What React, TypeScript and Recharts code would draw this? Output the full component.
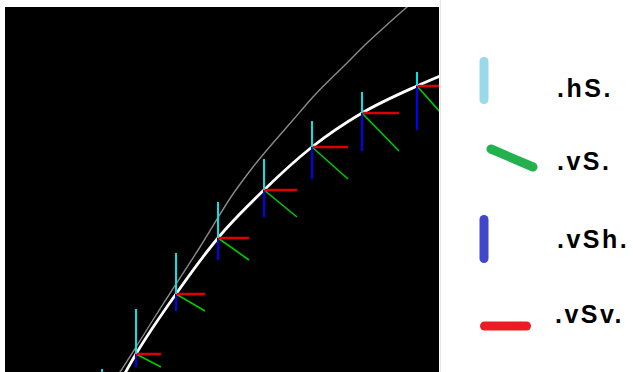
import React from 'react';
import { ComposedChart, Line, XAxis, YAxis, CartesianGrid, Legend } from 'recharts';

// anchor points of the vector glyphs (chart units)
const anchorX = [97, 131, 171, 213, 259, 307, 357, 412];
const anchorY = [-44, 18, 78, 134, 182, 225, 259, 286];
// component lengths
const hS = [47, 45, 41, 36, 31, 26, 21, 14];
const vSh = [11, 13, 17, 22, 27, 32, 38, 44];
const vSv = [22, 25, 29, 31, 33, 36, 37, 39];

// white trajectory
const whiteX = [97, 131, 171, 213, 259, 307, 357, 412, 440];
const whiteY = [-44, 18, 78, 134, 182, 225, 259, 286, 298];

// gray reference curve
const grayX = [109, 115, 131, 146, 162, 195, 228, 248, 288, 308, 342, 362, 385, 402, 412];
const grayY = [-9, 0, 25, 49, 74, 125, 178, 205, 252, 275, 309, 329, 350, 365, 374];

const legendLabels = ['.hS.', '.vS.', '.vSh.', '.vSv.'];
const legendColors = ['#99d9ea', '#22b14c', '#3f48cc', '#ed1c24'];

const whiteData = whiteX.map((x, i) => ({ x, y: whiteY[i] }));
const grayData = grayX.map((x, i) => ({ x, y: grayY[i] }));

const seg = (build: (i: number) => { x: number; y: number }[]) =>
  anchorX.flatMap((_, i) => [...build(i), { x: anchorX[i], y: null as any }]);

const hsData = seg((i) => [
  { x: anchorX[i], y: anchorY[i] },
  { x: anchorX[i], y: anchorY[i] + hS[i] },
]);
const vshData = seg((i) => [
  { x: anchorX[i], y: anchorY[i] },
  { x: anchorX[i], y: anchorY[i] - vSh[i] },
]);
const vsvData = seg((i) => [
  { x: anchorX[i], y: anchorY[i] },
  { x: anchorX[i] + vSv[i], y: anchorY[i] },
]);
const vsData = seg((i) => [
  { x: anchorX[i], y: anchorY[i] },
  { x: anchorX[i] + vSv[i], y: anchorY[i] - vSh[i] },
]);

const LegendContent = () => (
  <svg width={193} height={372} style={{ display: 'block' }}>
    <line x1={44} y1={61.5} x2={44} y2={99.5} stroke={legendColors[0]} strokeWidth={9} strokeLinecap="round" />
    <line x1={51} y1={149} x2={93} y2={167} stroke={legendColors[1]} strokeWidth={9} strokeLinecap="round" />
    <line x1={44} y1={219.5} x2={44} y2={258.5} stroke={legendColors[2]} strokeWidth={9} strokeLinecap="round" />
    <line x1={44.5} y1={326} x2={86.5} y2={326} stroke={legendColors[3]} strokeWidth={9} strokeLinecap="round" />
    {legendLabels.map((t, i) => (
      <text
        key={t}
        x={i === 3 ? 115 : 117}
        y={[97, 170, 248, 323][i]}
        fontFamily="'Liberation Sans', Arial, sans-serif"
        fontWeight="bold"
        fontSize={25}
        letterSpacing={2.5}
        fill="#000"
      >
        {t}
      </text>
    ))}
  </svg>
);

export default function App() {
  return (
    <div style={{ position: 'relative', width: 633, height: 372, background: '#fff', overflow: 'hidden' }}>
      <style>{'body{margin:0;}'}</style>
      <div style={{ position: 'absolute', left: 440, top: 0, width: 1, height: 372, background: '#e6e6e6' }} />
      <ComposedChart width={633} height={372} margin={{ top: 7, left: 5, right: 194, bottom: 0 }}>
        <CartesianGrid horizontal={false} vertical={false} fill="#000" fillOpacity={1} stroke="none" />
        <XAxis dataKey="x" type="number" domain={[0, 434]} allowDataOverflow hide />
        <YAxis type="number" domain={[0, 365]} allowDataOverflow hide />
        <Line data={grayData} dataKey="y" type="monotone" stroke="#8a8a8a" strokeWidth={1.4} dot={false} isAnimationActive={false} legendType="none" />
        <Line data={whiteData} dataKey="y" type="monotone" stroke="#ffffff" strokeWidth={2.8} dot={false} isAnimationActive={false} legendType="none" />
        <Line data={vsData} dataKey="y" name=".vS." type="linear" stroke="#00c800" strokeWidth={1.6} dot={false} isAnimationActive={false} />
        <Line data={vshData} dataKey="y" name=".vSh." type="linear" stroke="#0000ff" strokeWidth={2} dot={false} isAnimationActive={false} />
        <Line data={vsvData} dataKey="y" name=".vSv." type="linear" stroke="#dd0000" strokeWidth={2.6} dot={false} isAnimationActive={false} />
        <Line data={hsData} dataKey="y" name=".hS." type="linear" stroke="#00e6e6" strokeWidth={2} dot={false} isAnimationActive={false} />
        <Legend
          layout="vertical"
          align="center"
          verticalAlign="middle"
          content={LegendContent}
          wrapperStyle={{ left: 440, top: 0, width: 193, height: 372 }}
        />
      </ComposedChart>
    </div>
  );
}
